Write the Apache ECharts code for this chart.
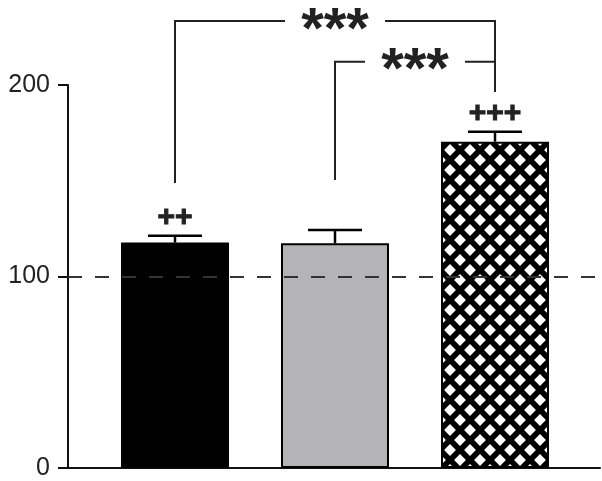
<!DOCTYPE html>
<html><head><meta charset="utf-8">
<script src="https://cdn.jsdelivr.net/npm/echarts@6/dist/echarts.min.js"></script>
<style>html,body{margin:0;padding:0;background:#fff}#c{width:602px;height:481px}</style>
</head><body><div id="c"></div>
<script>
// ---- data ----
const categories = [0, 1, 2];
const means = [117.7, 117.3, 170.4];
const errors = [3.6, 7.0, 5.2];
const marks = ['++', '', '+++'];
const yTicks = [0, 100, 200];
const baseline = 100;
// brackets: [fromCategory, toCategory, level, leftDropEnd, rightDropEnd]
const bracketFrom = [0, 1];
const bracketTo = [2, 2];
const bracketLevel = [233.4, 212.2];
const bracketLeftEnd = [148.8, 150.4];
const bracketRightEnd = [196.3, 196.3];
const bracketLabels = ['***', '***'];

// ---- hatch pattern ----
const pc = document.createElement('canvas'); pc.width = 20; pc.height = 20;
const g = pc.getContext('2d');
g.fillStyle = '#000'; g.fillRect(0, 0, 20, 20);
g.fillStyle = '#fff';
function dia(cx, cy, r) { g.beginPath(); g.moveTo(cx, cy - r); g.lineTo(cx + r, cy); g.lineTo(cx, cy + r); g.lineTo(cx - r, cy); g.closePath(); g.fill(); }
[[0,0],[20,0],[0,20],[20,20],[10,10]].forEach(p => dia(p[0], p[1], 5.9));
const fills = ['#000000', '#b4b4b6', { image: pc, repeat: 'repeat' }];

const chart = echarts.init(document.getElementById('c'), null, { renderer: 'canvas' });
const FONT = '"Liberation Sans", Arial, sans-serif';

chart.setOption({
  animation: false,
  grid: { left: 68, right: 2, top: 85, bottom: 13 },
  xAxis: {
    type: 'value', min: -0.66875, max: 2.65625,
    axisLine: { show: true, onZero: false, lineStyle: { color: '#111', width: 2 } },
    axisTick: { show: false }, axisLabel: { show: false }, splitLine: { show: false }
  },
  yAxis: {
    type: 'value', min: yTicks[0], max: yTicks[yTicks.length - 1], interval: yTicks[1] - yTicks[0],
    axisLine: { show: true, onZero: false, lineStyle: { color: '#111', width: 2 } },
    axisTick: { show: true, length: 10, lineStyle: { color: '#111', width: 2 } },
    axisLabel: { fontSize: 25, color: '#222', fontFamily: FONT, margin: 18 },
    splitLine: { show: false }
  },
  series: [
    {
      type: 'bar', barWidth: 108, z: 2,
      data: categories.map((c, i) => ({ value: [c, means[i]], itemStyle: { color: fills[i] } })),
      itemStyle: { borderColor: '#000', borderWidth: 2 },
      markLine: {
        silent: true, symbol: 'none', z: 5,
        label: { show: false },
        lineStyle: { type: [14, 13], color: '#333', width: 2.2 },
        data: [{ yAxis: baseline }]
      }
    },
    {
      type: 'custom', z: 6, clip: false,
      data: categories.map((c, i) => [c, means[i], errors[i]]),
      renderItem: function (params, api) {
        const i = api.value(0), m = api.value(1), e = api.value(2);
        const top = api.coord([i, m + e]);
        const base = api.coord([i, m]);
        const half = 27;
        const ch = [
          { type: 'line', shape: { x1: top[0], y1: base[1], x2: top[0], y2: top[1] }, style: { stroke: '#000', lineWidth: 2.5 } },
          { type: 'line', shape: { x1: top[0] - half, y1: top[1], x2: top[0] + half, y2: top[1] }, style: { stroke: '#000', lineWidth: 2.5 } }
        ];
        const t = marks[params.dataIndex];
        if (t) ch.push({ type: 'text', x: top[0], y: top[1] - 18,
          style: { text: t, fill: '#222', stroke: '#222', lineWidth: 1, font: 'bold 30px ' + FONT, textAlign: 'center', textVerticalAlign: 'middle' } });
        return { type: 'group', children: ch };
      }
    },
    {
      type: 'custom', z: 6, clip: false,
      data: bracketFrom.map((f, k) => [f, bracketTo[k], bracketLevel[k], bracketLeftEnd[k], bracketRightEnd[k]]),
      renderItem: function (params, api) {
        const k = params.dataIndex;
        const f = api.value(0), t = api.value(1), lv = api.value(2), le = api.value(3), re = api.value(4);
        const pL = api.coord([f, lv]), pR = api.coord([t, lv]);
        const pLe = api.coord([f, le]), pRe = api.coord([t, re]);
        const mid = (pL[0] + pR[0]) / 2, gap = 50;
        const st = { stroke: '#222', lineWidth: 2, fill: null };
        return { type: 'group', children: [
          { type: 'polyline', shape: { points: [[pLe[0], pLe[1]], [pL[0], pL[1]], [mid - gap, pL[1]]] }, style: st },
          { type: 'polyline', shape: { points: [[mid + gap, pR[1]], [pR[0], pR[1]], [pRe[0], pRe[1]]] }, style: st },
          { type: 'text', x: mid, y: pL[1] + 10.5, style: { text: bracketLabels[k], fill: '#222', font: 'bold 58px ' + FONT, textAlign: 'center', textVerticalAlign: 'middle' } }
        ] };
      }
    }
  ]
});
</script></body></html>
